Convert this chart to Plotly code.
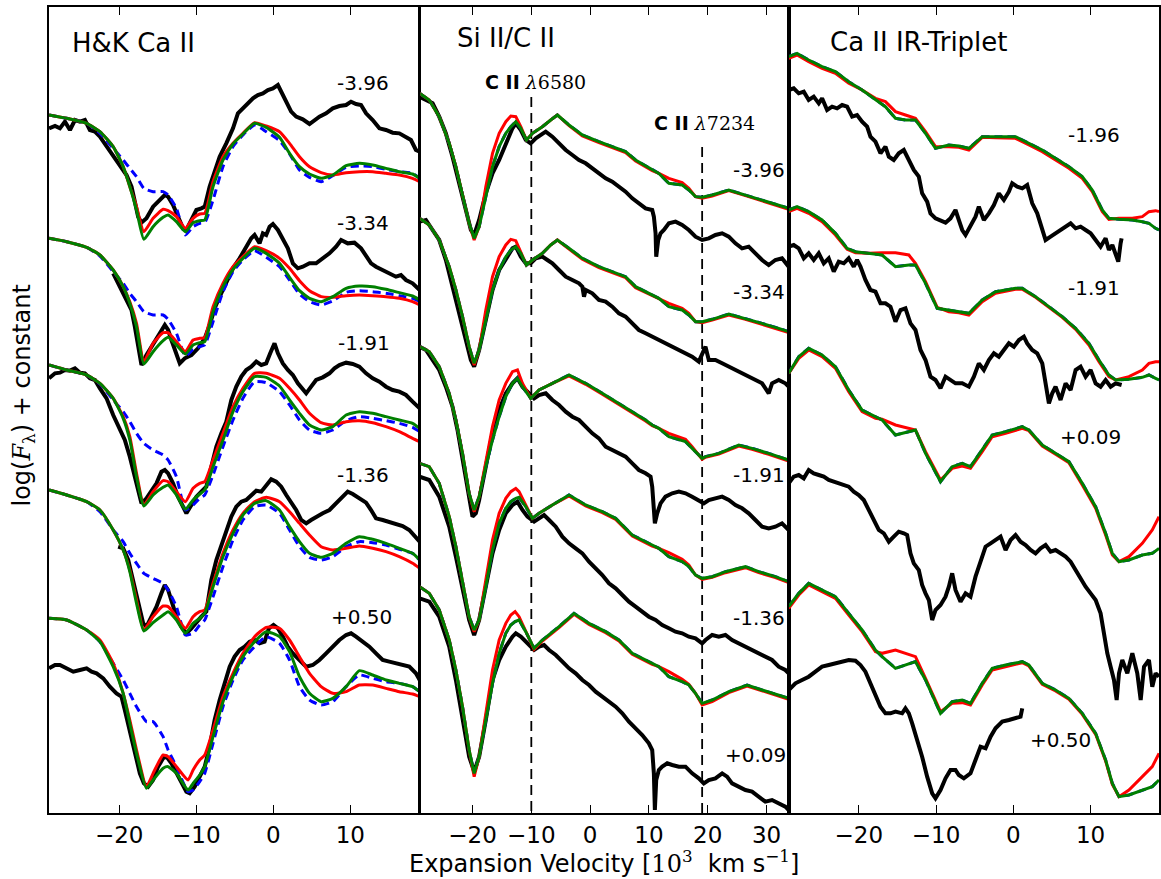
import plotly.graph_objects as go

# ======================= Panel 1 : H&K Ca II =======================
HK_GRID_V = [-29.1, -26.82, -24.23, -22.50, -20.78, -19.48, -18.62, -17.75, -16.80, -15.60, -14.30, -13.65,
             -12.57, -11.41, -10.41, -9.55, -8.90, -7.82, -6.53, -5.23, -3.94, -2.43, -0.92, 0.81, 2.11, 3.40,
             4.70, 6.21, 7.72, 9.45, 11.17, 12.90, 14.63, 16.36, 18.08, 19.0]
HK_GRID_V_P050 = [-29.1, -26.82, -24.23, -22.50, -20.78, -19.48, -18.62, -17.75, -16.46, -15.60, -14.30, -13.65,
                  -12.57, -11.06, -10.41, -9.55, -8.90, -7.82, -6.53, -5.23, -3.94, -2.43, -0.92, 0.81, 2.11, 3.40,
                  4.70, 6.21, 7.72, 9.45, 11.17, 12.90, 14.63, 16.36, 18.08, 19.0]

HK_RED_M396 = [20.95, 20.85, 20.70, 20.45, 20.00, 19.40, 18.80, 18.20, 17.45, 17.85, 18.12, 18.08, 17.90, 17.55, 17.85,
               17.98, 18.00, 18.95, 19.70, 20.10, 20.40, 20.72, 20.62, 20.45, 20.10, 19.70, 19.40, 19.22, 19.15, 19.22,
               19.25, 19.25, 19.20, 19.15, 19.05, 18.95]
HK_GREEN_M396 = [20.95, 20.85, 20.70, 20.45, 20.00, 19.40, 18.80, 18.10, 17.22, 17.60, 17.88, 17.95, 17.75, 17.45,
                 17.72, 17.78, 17.80, 18.80, 19.60, 20.08, 20.38, 20.70, 20.58, 20.28, 19.80, 19.40, 19.18, 19.05,
                 19.15, 19.43, 19.50, 19.45, 19.35, 19.25, 19.18, 19.05]
HK_BLUE_M396 = [20.95, 20.85, 20.70, 20.40, 19.95, 19.60, 19.35, 19.10, 18.75, 18.65, 18.65, 18.55, 18.15, 17.35,
                17.60, 17.70, 17.72, 18.40, 19.40, 20.00, 20.35, 20.65, 20.45, 20.18, 19.78, 19.30, 19.08, 18.95,
                19.13, 19.38, 19.42, 19.40, 19.32, 19.25, 19.20, 19.05]

HK_RED_M334 = [17.25, 17.15, 16.98, 16.75, 16.30, 15.80, 15.35, 14.70, 13.55, 14.10, 14.42, 14.42, 14.15, 13.85, 14.20,
               14.25, 14.27, 15.20, 15.90, 16.40, 16.70, 17.00, 16.88, 16.65, 16.35, 15.98, 15.68, 15.50, 15.48, 15.53,
               15.55, 15.53, 15.50, 15.45, 15.35, 15.25]
HK_GREEN_M334 = [17.25, 17.15, 16.98, 16.75, 16.30, 15.80, 15.30, 14.60, 13.48, 13.85, 14.18, 14.28, 14.05, 13.78,
                 14.05, 14.12, 14.15, 15.05, 15.80, 16.32, 16.65, 16.95, 16.80, 16.50, 16.08, 15.68, 15.45, 15.35,
                 15.50, 15.75, 15.82, 15.80, 15.72, 15.62, 15.52, 15.40]
HK_BLUE_M334 = [17.25, 17.15, 16.98, 16.72, 16.25, 15.90, 15.60, 15.35, 15.05, 14.95, 14.95, 14.82, 14.40, 13.72,
                13.92, 14.00, 14.05, 14.75, 15.65, 16.25, 16.60, 16.88, 16.68, 16.40, 16.00, 15.58, 15.35, 15.25,
                15.37, 15.63, 15.68, 15.65, 15.60, 15.53, 15.45, 15.35]

HK_RED_M191 = [13.45, 13.30, 13.15, 12.90, 12.45, 11.90, 11.30, 10.20, 9.25, 9.65, 9.98, 9.95, 9.65, 9.35, 9.75, 9.90,
               9.95, 10.60, 11.40, 12.20, 12.75, 13.20, 13.20, 13.05, 12.75, 12.40, 12.00, 11.72, 11.65, 11.75, 11.78,
               11.72, 11.60, 11.45, 11.25, 11.15]
HK_GREEN_M191 = [13.45, 13.30, 13.15, 12.90, 12.45, 11.85, 11.20, 10.10, 9.22, 9.55, 9.78, 9.85, 9.55, 9.12, 9.40,
                 9.58, 9.70, 10.40, 11.20, 12.05, 12.65, 13.10, 13.08, 12.82, 12.40, 12.00, 11.65, 11.50, 11.60, 11.95,
                 12.05, 12.00, 11.90, 11.80, 11.70, 11.55]
HK_BLUE_M191 = [13.45, 13.30, 13.15, 12.88, 12.40, 12.05, 11.75, 11.40, 11.10, 10.90, 10.75, 10.60, 10.10, 9.10, 9.25,
                9.45, 9.55, 10.15, 11.00, 11.80, 12.45, 12.95, 12.92, 12.65, 12.25, 11.80, 11.50, 11.40, 11.50, 11.78,
                11.90, 11.85, 11.78, 11.70, 11.58, 11.45]

HK_RED_M136 = [9.70, 9.55, 9.35, 9.10, 8.50, 7.90, 7.30, 6.40, 5.50, 5.90, 6.22, 6.20, 5.90, 5.55, 5.90, 6.05, 6.10,
               6.90, 7.80, 8.50, 9.00, 9.35, 9.48, 9.35, 9.05, 8.70, 8.35, 8.00, 7.90, 7.95, 8.02, 7.95, 7.85, 7.70,
               7.50, 7.35]
HK_GREEN_M136 = [9.70, 9.55, 9.35, 9.10, 8.50, 7.90, 7.25, 6.30, 5.47, 5.72, 5.95, 6.05, 5.80, 5.40, 5.70, 5.85, 6.00,
                 6.80, 7.70, 8.40, 8.95, 9.30, 9.38, 9.10, 8.60, 8.15, 7.80, 7.68, 7.80, 8.10, 8.30, 8.22, 8.10, 7.95,
                 7.80, 7.60]
HK_BLUE_M136 = [9.70, 9.55, 9.35, 9.05, 8.50, 8.15, 7.80, 7.50, 7.20, 7.05, 6.90, 6.70, 6.20, 5.35, 5.40, 5.65, 5.80,
                6.50, 7.40, 8.20, 8.80, 9.20, 9.25, 9.00, 8.50, 8.00, 7.68, 7.60, 7.70, 8.00, 8.15, 8.12, 8.05, 7.92,
                7.80, 7.60]

HK_RED_P050 = [5.85, 5.80, 5.50, 5.20, 4.50, 3.60, 2.80, 1.90, 0.80, 1.20, 1.75, 1.70, 1.40, 1.00, 1.30, 1.60, 1.75,
               2.50, 3.50, 4.20, 4.80, 5.30, 5.58, 5.55, 5.20, 4.70, 4.20, 3.80, 3.60, 3.65, 3.85, 3.85, 3.75, 3.65,
               3.58, 3.50]
HK_GREEN_P050 = [5.85, 5.80, 5.50, 5.15, 4.40, 3.60, 2.70, 1.80, 0.75, 1.00, 1.35, 1.40, 1.20, 0.70, 0.90, 1.15, 1.40,
                 2.30, 3.35, 4.10, 4.70, 5.15, 5.45, 5.30, 4.85, 4.10, 3.60, 3.35, 3.45, 3.80, 4.28, 4.15, 4.00, 3.90,
                 3.80, 3.65]
HK_BLUE_P050 = [5.85, 5.80, 5.50, 5.15, 4.50, 4.00, 3.60, 3.20, 2.75, 2.75, 2.30, 1.90, 1.40, 0.65, 0.70, 0.95, 1.20,
                2.10, 3.20, 4.00, 4.60, 5.00, 5.30, 5.10, 4.60, 3.80, 3.40, 3.25, 3.35, 3.80, 4.15, 4.05, 3.95, 3.90,
                3.80, 3.65]

HK_OBS_M396_V = [-29.1, -28.33, -27.69, -27.04, -26.39, -25.74, -25.09, -24.45, -23.80, -23.15, -22.50, -21.64, -20.78,
                 -19.91, -19.05, -18.40, -17.97, -17.54, -17.11, -16.46, -15.60, -14.73, -14.08, -13.65, -13.01,
                 -12.36, -11.71, -11.28, -10.63, -9.98, -9.34, -8.90, -8.26, -7.61, -6.96, -6.10, -5.23, -4.59, -3.94,
                 -3.29, -2.64, -2.00, -1.35, -0.70, -0.05, 0.60, 1.03, 1.68, 2.32, 2.97, 3.83, 4.70, 5.35, 5.99, 6.86,
                 7.72, 8.58, 9.45, 10.09, 10.74, 11.39, 12.04, 12.90, 13.77, 14.63, 15.49, 16.36, 17.22, 17.87, 18.51,
                 19.0]
HK_OBS_M396_F = [20.55, 20.62, 20.55, 20.75, 20.50, 20.80, 20.75, 20.80, 20.50, 20.45, 20.30, 20.00, 19.70, 19.40,
                 19.15, 18.80, 18.40, 17.90, 17.72, 17.85, 18.20, 18.40, 18.55, 18.50, 18.25, 17.90, 17.55, 17.50,
                 17.80, 18.10, 18.15, 18.20, 18.80, 19.30, 19.70, 20.10, 20.55, 21.00, 21.15, 21.30, 21.45, 21.55,
                 21.60, 21.70, 21.75, 21.85, 21.65, 21.30, 21.05, 20.90, 20.82, 20.68, 20.80, 20.90, 21.00, 21.15,
                 21.22, 21.25, 21.35, 21.28, 21.25, 21.00, 20.80, 20.55, 20.50, 20.42, 20.40, 20.30, 20.20, 19.90,
                 19.85]
HK_OBS_M334_V = [-20.78, -19.91, -19.05, -18.40, -17.97, -17.54, -17.11, -16.46, -15.60, -14.73, -14.08, -13.65,
                 -13.22, -12.57, -12.14, -11.49, -10.63, -9.77, -8.90, -8.26, -7.61, -6.96, -6.10, -5.23, -4.37,
                 -3.51, -2.86, -2.43, -1.78, -1.35, -0.92, -0.48, -0.05, 0.60, 1.24, 1.89, 2.54, 3.19, 3.83, 4.70,
                 5.56, 6.42, 7.29, 8.15, 8.80, 9.66, 10.53, 11.39, 12.04, 12.69, 13.33, 14.20, 15.06, 15.92, 16.57,
                 17.22, 18.08, 19.0]
HK_OBS_M334_F = [16.20, 15.80, 15.45, 15.10, 14.60, 14.00, 13.45, 13.75, 14.10, 14.40, 14.65, 14.50, 14.20, 13.80,
                 13.50, 13.65, 13.75, 13.95, 14.25, 14.65, 15.15, 15.50, 15.95, 16.35, 16.65, 17.00, 17.25, 17.35,
                 17.10, 17.40, 17.35, 17.60, 17.68, 17.50, 17.20, 16.95, 16.50, 16.35, 16.40, 16.50, 16.50, 16.65,
                 16.80, 17.00, 17.20, 17.10, 17.12, 16.95, 16.70, 16.50, 16.40, 16.30, 16.20, 16.10, 16.15, 16.00,
                 15.90, 15.70]
HK_OBS_M191_V = [-29.1, -28.33, -27.69, -27.04, -26.39, -25.74, -25.09, -24.45, -23.80, -23.15, -22.50, -21.64, -20.78,
                 -19.91, -19.27, -18.62, -17.97, -17.54, -17.11, -16.46, -15.81, -15.16, -14.52, -14.08, -13.65,
                 -13.01, -12.36, -11.71, -11.28, -10.63, -9.98, -9.34, -8.69, -8.04, -7.39, -6.74, -6.10, -5.45,
                 -4.80, -4.15, -3.51, -2.86, -2.21, -1.56, -0.92, -0.40, 0.16, 0.60, 1.24, 1.89, 2.54, 3.19, 3.83,
                 4.27, 4.91, 5.56, 6.42, 7.29, 7.94, 8.58, 9.45, 10.31, 11.17, 12.04, 12.90, 13.77, 14.63, 15.49,
                 16.36, 17.22, 18.08, 19.0]
HK_OBS_M191_F = [13.05, 13.20, 13.22, 13.30, 13.28, 13.35, 13.22, 13.20, 13.05, 13.00, 12.75, 12.45, 11.95, 11.50,
                 11.20, 10.70, 10.10, 9.70, 9.30, 9.45, 9.70, 9.90, 10.25, 10.30, 10.20, 9.90, 9.50, 9.20, 9.00, 9.25,
                 9.50, 9.65, 9.80, 10.40, 11.00, 11.40, 11.75, 12.40, 12.80, 13.10, 13.30, 13.40, 13.55, 13.45, 13.50,
                 13.80, 14.10, 13.80, 13.50, 13.30, 13.15, 12.90, 12.70, 12.60, 12.80, 13.00, 13.08, 13.20, 13.35,
                 13.45, 13.52, 13.48, 13.40, 13.20, 13.05, 12.95, 12.80, 12.70, 12.65, 12.55, 12.35, 12.15]
HK_OBS_M136_V = [-20.13, -19.48, -18.83, -18.19, -17.54, -16.89, -16.46, -15.81, -15.16, -14.52, -14.08, -13.65,
                 -13.22, -12.57, -11.93, -11.28, -10.63, -9.98, -9.34, -8.69, -8.04, -7.39, -6.74, -6.10, -5.45,
                 -4.80, -4.15, -3.51, -2.86, -2.21, -1.56, -0.92, -0.27, 0.38, 1.03, 1.68, 2.32, 2.97, 3.62, 4.27,
                 4.91, 5.56, 6.42, 7.29, 8.15, 9.02, 9.66, 10.31, 11.17, 12.04, 12.69, 13.33, 14.20, 15.06, 15.92,
                 16.79, 17.65, 18.51, 19.0]
HK_OBS_M136_F = [8.00, 7.95, 7.60, 7.00, 6.30, 5.70, 5.60, 5.90, 6.20, 6.60, 6.85, 6.70, 6.35, 5.90, 5.60, 5.40, 5.55,
                 5.75, 5.90, 6.05, 7.00, 7.60, 8.05, 8.50, 8.90, 9.20, 9.35, 9.40, 9.55, 9.68, 9.65, 9.85, 10.02, 9.95,
                 9.80, 9.55, 9.35, 9.10, 8.80, 8.70, 8.80, 8.90, 9.00, 9.10, 9.30, 9.50, 9.65, 9.58, 9.45, 9.32, 9.10,
                 8.85, 8.80, 8.75, 8.70, 8.62, 8.50, 8.25, 8.15]
HK_OBS_P050_V = [-29.1, -28.33, -27.69, -26.82, -25.96, -25.09, -24.23, -23.58, -22.94, -22.07, -21.21, -20.35, -19.70,
                 -19.27, -18.62, -17.97, -17.32, -16.80, -16.24, -15.60, -14.95, -14.30, -13.87, -13.22, -12.57,
                 -11.93, -11.28, -10.85, -10.20, -9.55, -8.90, -8.26, -7.61, -6.96, -6.31, -5.66, -5.02, -4.37,
                 -3.72, -3.07, -2.43, -1.78, -1.13, -0.57, 0.03, 0.60, 1.24, 1.89, 2.54, 3.40, 4.27, 5.13, 5.99, 6.86,
                 7.72, 8.58, 9.45, 10.09, 10.74, 11.61, 12.47, 13.33, 14.20, 15.06, 15.92, 16.79, 17.65, 18.51, 19.0]
HK_OBS_P050_F = [4.35, 4.45, 4.45, 4.35, 4.25, 4.30, 4.35, 4.25, 4.20, 4.05, 3.80, 3.60, 3.50, 3.10, 2.50, 1.80, 1.20,
                 0.90, 0.80, 1.00, 1.40, 1.65, 1.70, 1.50, 1.20, 0.90, 0.65, 0.60, 0.80, 1.10, 1.40, 2.00, 2.80, 3.40,
                 3.90, 4.40, 4.70, 4.90, 5.00, 5.15, 5.20, 5.10, 5.15, 5.55, 5.65, 5.55, 5.30, 5.00, 4.80, 4.60, 4.40,
                 4.45, 4.60, 4.80, 5.00, 5.20, 5.35, 5.40, 5.30, 5.15, 5.00, 4.80, 4.60, 4.55, 4.50, 4.45, 4.40, 4.20,
                 4.00]

HK_EPOCHS = ["-3.96", "-3.34", "-1.91", "-1.36", "+0.50"]
HK_LABEL_V = [11.7, 11.7, 11.8, 11.7, 11.5]
HK_LABEL_F = [21.91, 17.71, 14.11, 10.15, 5.89]

# ======================= Panel 2 : Si II / C II =======================
SI_GRID_A = [-29.0, -27.36, -25.66, -23.96, -22.83, -21.70, -20.57, -19.72, -18.87, -17.74, -16.60, -15.47, -14.34,
             -13.49, -12.64, -11.79, -10.83, -9.81, -8.12, -6.70, -5.57, -3.59, -1.32, 1.50, 3.77, 6.03, 7.73, 10.56,
             11.69, 13.39, 15.65, 16.79, 17.92, 19.05, 20.75, 23.58, 26.41, 29.24, 32.07, 33.77]
SI_GREEN_M396 = [21.60, 21.40, 20.90, 20.10, 19.40, 18.50, 17.70, 17.25, 17.60, 18.50, 19.40, 20.00, 20.40, 20.60,
                 20.75, 20.55, 20.20, 20.40, 20.60, 20.80, 20.95, 20.65, 20.35, 20.15, 20.00, 19.85, 19.60, 19.30,
                 19.20, 18.90, 18.85, 18.70, 18.50, 18.48, 18.55, 18.70, 18.55, 18.40, 18.25, 18.15]
SI_RED_M396 = [21.60, 21.40, 20.90, 20.10, 19.40, 18.50, 17.70, 17.20, 17.60, 18.80, 19.80, 20.40, 20.75, 20.92, 20.90,
               20.60, 20.20, 20.40, 20.60, 20.80, 20.95, 20.63, 20.32, 20.12, 19.97, 19.82, 19.57, 19.28, 19.20, 19.05,
               18.92, 18.75, 18.50, 18.45, 18.52, 18.68, 18.53, 18.38, 18.23, 18.12]
SI_GREEN_M334 = [17.85, 17.65, 17.20, 16.40, 15.70, 14.90, 14.00, 13.50, 13.90, 14.80, 15.70, 16.30, 16.70, 16.90,
                 17.00, 16.80, 16.45, 16.60, 16.80, 17.05, 17.20, 16.95, 16.65, 16.40, 16.25, 16.10, 15.80, 15.55,
                 15.45, 15.20, 15.10, 14.95, 14.75, 14.75, 14.82, 14.98, 14.85, 14.70, 14.55, 14.45]
SI_RED_M334 = [17.85, 17.65, 17.20, 16.40, 15.70, 14.90, 14.00, 13.45, 13.90, 15.10, 16.10, 16.70, 17.05, 17.22, 17.18,
               16.85, 16.45, 16.60, 16.80, 17.05, 17.20, 16.93, 16.62, 16.37, 16.22, 16.07, 15.77, 15.53, 15.45, 15.30,
               15.15, 15.00, 14.75, 14.72, 14.80, 14.95, 14.82, 14.67, 14.52, 14.42]

SI_GRID_B = [-29.0, -27.36, -25.66, -23.96, -22.83, -21.70, -20.57, -19.72, -18.87, -17.74, -16.60, -15.47, -14.34,
             -13.21, -12.36, -11.51, -10.10, -8.68, -6.42, -3.59, -1.89, -0.76, 2.07, 4.90, 7.73, 9.43, 10.56, 11.69,
             13.39, 16.22, 17.35, 19.05, 19.62, 21.88, 25.28, 27.54, 30.37, 33.77]
SI_GREEN_M191 = [14.00, 13.85, 13.40, 12.60, 11.80, 10.80, 9.60, 9.10, 9.50, 10.40, 11.20, 11.90, 12.50, 12.90, 13.05,
                 12.80, 12.45, 12.70, 12.90, 13.15, 13.00, 12.90, 12.60, 12.30, 12.00, 11.80, 11.65, 11.55, 11.30,
                 11.15, 10.95, 10.65, 10.70, 10.80, 11.05, 10.95, 10.80, 10.60]
SI_RED_M191 = [14.00, 13.85, 13.40, 12.60, 11.80, 10.80, 9.60, 9.05, 9.50, 10.60, 11.60, 12.40, 12.90, 13.25, 13.30,
               12.90, 12.45, 12.70, 12.90, 13.12, 12.97, 12.87, 12.57, 12.27, 11.97, 11.77, 11.63, 11.55, 11.40, 11.22,
               11.00, 10.62, 10.68, 10.78, 11.02, 10.92, 10.77, 10.57]

SI_GRID_C = [-29.0, -27.36, -25.66, -23.96, -22.83, -21.70, -20.57, -19.72, -18.87, -17.74, -16.60, -15.47, -14.34,
             -13.49, -12.64, -12.08, -10.95, -9.81, -8.68, -6.42, -3.59, -0.76, 2.07, 4.34, 7.17, 10.56, 11.69, 13.39,
             15.65, 16.79, 17.92, 19.05, 20.75, 23.01, 26.41, 28.67, 31.50, 33.77]
SI_GREEN_M136 = [10.50, 10.40, 9.90, 8.90, 8.00, 7.00, 5.90, 5.50, 5.80, 6.80, 7.90, 8.70, 9.15, 9.35, 9.45, 9.48,
                 9.20, 8.85, 9.00, 9.25, 9.55, 9.25, 9.05, 8.85, 8.35, 8.05, 7.95, 7.70, 7.55, 7.40, 7.15, 7.05, 7.10,
                 7.25, 7.40, 7.25, 7.10, 6.95]
SI_RED_M136 = [10.50, 10.40, 9.90, 8.90, 8.00, 7.00, 5.90, 5.45, 5.80, 7.00, 8.20, 9.00, 9.45, 9.65, 9.75, 9.65, 9.25,
               8.85, 9.00, 9.25, 9.52, 9.22, 9.02, 8.82, 8.32, 8.02, 7.95, 7.82, 7.62, 7.45, 7.15, 7.02, 7.08, 7.22,
               7.37, 7.22, 7.07, 6.92]

SI_GRID_D = [-29.0, -27.36, -25.66, -23.96, -22.83, -21.70, -20.57, -19.72, -18.87, -17.74, -16.60, -15.47, -14.34,
             -13.49, -12.76, -12.08, -10.95, -9.53, -8.12, -5.29, -2.74, -0.19, 2.64, 4.90, 7.17, 10.56, 11.69, 13.39,
             15.65, 16.79, 17.92, 19.05, 20.75, 23.58, 26.69, 29.24, 32.07, 33.77]
SI_GREEN_P009 = [6.80, 6.60, 6.10, 5.20, 4.30, 3.20, 1.90, 1.20, 1.70, 2.80, 3.90, 4.80, 5.40, 5.65, 5.75, 5.80, 5.45,
                 4.95, 5.20, 5.60, 6.00, 5.70, 5.45, 5.20, 4.80, 4.50, 4.40, 4.10, 3.95, 3.85, 3.60, 3.30, 3.40, 3.65,
                 3.85, 3.70, 3.55, 3.45]
SI_RED_P009 = [6.80, 6.60, 6.10, 5.20, 4.30, 3.20, 1.90, 1.10, 1.70, 3.00, 4.30, 5.20, 5.70, 5.95, 6.05, 5.90, 5.45,
               4.92, 5.17, 5.57, 5.97, 5.67, 5.42, 5.17, 4.77, 4.47, 4.40, 4.25, 4.02, 3.87, 3.60, 3.25, 3.35, 3.62,
               3.82, 3.67, 3.52, 3.42]

SI_OBS_M396_V = [-29.0, -27.92, -26.79, -25.66, -24.53, -23.40, -22.26, -21.13, -20.28, -19.72, -18.87, -17.74, -16.60,
                 -15.47, -14.34, -13.21, -12.64, -11.79, -10.95, -10.10, -9.25, -8.12, -7.55, -6.42, -5.29, -4.15,
                 -3.02, -1.89, -0.76, 0.37, 1.50, 2.64, 3.77, 4.90, 6.03, 7.17, 8.30, 9.43, 10.56, 10.84, 11.13,
                 11.24, 11.58, 11.98, 12.54, 13.39, 14.52, 15.65, 16.79, 17.92, 19.05, 20.18, 21.31, 22.45, 23.58,
                 24.71, 25.84, 26.97, 28.11, 29.24, 30.37, 31.50, 32.63, 33.77]
SI_OBS_M396_F = [21.50, 21.40, 21.30, 20.90, 20.40, 19.70, 18.90, 18.00, 17.50, 17.35, 17.80, 18.60, 19.20, 19.60,
                 20.10, 20.55, 20.70, 20.50, 20.20, 20.10, 20.25, 20.40, 20.45, 20.30, 20.10, 19.90, 19.75, 19.60,
                 19.50, 19.35, 19.20, 19.05, 18.95, 18.80, 18.65, 18.45, 18.30, 18.15, 18.10, 17.90, 17.40, 16.70,
                 17.20, 17.40, 17.50, 17.70, 17.75, 17.65, 17.50, 17.30, 17.20, 17.25, 17.35, 17.40, 17.30, 17.10,
                 16.95, 17.00, 16.80, 16.60, 16.45, 16.60, 16.65, 16.40]
SI_OBS_M334_V = [-29.0, -27.92, -26.79, -25.66, -24.53, -23.40, -22.26, -21.13, -20.28, -19.72, -18.87, -17.74, -16.60,
                 -15.47, -14.34, -13.21, -12.64, -11.79, -10.95, -10.10, -9.25, -8.12, -7.27, -6.42, -5.29, -4.15,
                 -3.02, -1.89, -1.32, -1.04, -0.76, 0.37, 1.50, 2.64, 3.77, 4.90, 6.03, 7.17, 8.30, 9.43, 10.56, 11.69,
                 12.82, 13.96, 15.09, 16.22, 17.35, 18.48, 19.33, 19.62, 20.18, 21.31, 22.45, 23.58, 24.71, 25.84,
                 26.97, 28.11, 29.24, 30.37, 30.94, 32.07, 33.20, 33.77]
SI_OBS_M334_F = [17.75, 17.80, 17.50, 17.20, 16.60, 15.80, 15.00, 14.20, 13.60, 13.40, 13.90, 14.80, 15.70, 16.30,
                 16.60, 16.95, 17.00, 16.70, 16.50, 16.50, 16.65, 16.70, 16.60, 16.50, 16.30, 16.10, 16.00, 15.90,
                 15.80, 15.50, 15.70, 15.60, 15.40, 15.35, 15.20, 15.00, 14.90, 14.70, 14.50, 14.40, 14.30, 14.20,
                 14.10, 14.00, 13.90, 13.80, 13.70, 13.55, 13.90, 14.00, 13.60, 13.60, 13.50, 13.40, 13.30, 13.20,
                 13.10, 13.00, 12.90, 12.60, 12.90, 13.00, 12.90, 12.80]
SI_OBS_M191_V = [-29.0, -27.92, -26.79, -25.66, -24.53, -23.40, -22.55, -21.70, -20.57, -20.00, -19.43, -18.87, -17.74,
                 -16.60, -15.47, -14.34, -13.21, -12.36, -11.51, -10.38, -9.53, -8.68, -7.55, -6.42, -5.29, -4.15,
                 -3.02, -1.89, -0.76, 0.37, 1.50, 2.64, 3.77, 4.90, 6.03, 7.17, 8.30, 9.43, 10.28, 10.56, 10.84,
                 11.01, 11.41, 11.98, 12.82, 13.96, 15.09, 16.22, 17.35, 18.48, 19.33, 20.18, 21.31, 22.45, 23.58,
                 24.71, 25.84, 26.97, 28.11, 29.24, 30.37, 31.50, 32.63, 33.77]
SI_OBS_M191_F = [14.00, 13.90, 13.60, 13.30, 12.80, 12.20, 11.50, 10.60, 9.40, 8.90, 9.00, 9.40, 10.40, 11.40, 12.10,
                 12.60, 12.90, 13.05, 12.80, 12.60, 12.45, 12.55, 12.60, 12.40, 12.25, 12.05, 11.90, 11.80, 11.60,
                 11.40, 11.25, 11.00, 10.90, 10.80, 10.70, 10.50, 10.30, 10.20, 10.10, 9.80, 9.20, 8.70, 9.00, 9.30,
                 9.50, 9.60, 9.65, 9.60, 9.50, 9.40, 9.30, 9.40, 9.45, 9.50, 9.40, 9.25, 9.15, 9.00, 8.80, 8.60, 8.55,
                 8.60, 8.70, 8.50]
SI_OBS_M136_V = [-29.0, -27.36, -25.66, -23.96, -22.83, -21.70, -20.57, -19.72, -18.87, -17.74, -16.60, -15.47,
                 -14.34, -13.21, -12.36, -11.51, -10.66, -9.53, -8.68, -7.83, -6.98, -5.85, -4.72, -3.59, -2.46,
                 -1.32, -0.19, 0.94, 2.07, 3.20, 4.34, 5.47, 6.60, 7.73, 8.86, 9.99, 11.13, 12.26, 13.39, 14.52, 15.65,
                 16.79, 17.92, 19.05, 19.62, 20.75, 21.88, 23.01, 24.14, 25.28, 26.41, 27.54, 28.67, 29.80, 30.94,
                 32.07, 33.20, 33.77]
SI_OBS_M136_F = [10.10, 10.00, 9.50, 8.60, 7.70, 6.80, 5.80, 5.35, 5.80, 6.80, 7.80, 8.50, 9.00, 9.25, 9.35, 9.10,
                 8.90, 8.75, 8.85, 8.95, 8.80, 8.60, 8.30, 8.10, 7.95, 7.80, 7.55, 7.35, 7.15, 6.90, 6.75, 6.55, 6.35,
                 6.20, 6.05, 5.90, 5.80, 5.65, 5.55, 5.45, 5.40, 5.30, 5.25, 5.10, 5.20, 5.35, 5.30, 5.35, 5.20, 5.10,
                 5.00, 4.90, 4.80, 4.70, 4.60, 4.40, 4.30, 4.20]
SI_OBS_P009_V = [-29.0, -27.36, -25.66, -23.96, -22.83, -21.70, -20.57, -19.72, -18.87, -17.74, -16.60, -15.47,
                 -14.34, -13.21, -12.64, -11.79, -10.95, -9.53, -8.68, -7.83, -6.98, -5.85, -4.72, -3.59, -2.46,
                 -1.32, -0.19, 0.94, 2.07, 3.20, 4.34, 5.47, 6.60, 7.73, 8.86, 9.99, 10.56, 10.84, 11.01, 11.24,
                 11.69, 12.26, 13.11, 13.96, 15.09, 16.22, 17.35, 18.48, 19.33, 20.18, 21.31, 22.45, 23.29, 24.14,
                 25.28, 26.41, 27.54, 28.67, 29.80, 30.94, 32.07, 33.20, 33.77]
SI_OBS_P009_F = [6.45, 6.35, 5.90, 5.00, 4.00, 2.90, 1.70, 1.25, 1.70, 2.80, 4.00, 4.60, 5.00, 5.30, 5.40, 5.30, 5.15,
                 4.90, 5.00, 5.05, 4.90, 4.75, 4.55, 4.35, 4.20, 4.00, 3.85, 3.65, 3.50, 3.35, 3.20, 3.00, 2.75, 2.55,
                 2.35, 2.10, 1.90, 1.20, 0.10, 1.00, 1.30, 1.40, 1.50, 1.45, 1.40, 1.40, 1.20, 1.05, 0.90, 1.00, 1.05,
                 1.20, 1.10, 0.90, 0.80, 0.70, 0.65, 0.50, 0.35, 0.40, 0.30, 0.20, 0.10]

SI_EPOCHS = ["-3.96", "-3.34", "-1.91", "-1.36", "+0.09"]
SI_LABEL_V = [28.7, 28.7, 28.7, 28.7, 28.2]
SI_LABEL_F = [19.30, 15.64, 10.15, 5.86, 1.75]

CII_LINES_V = [-10.0, 19.05]
CII_LINES_TOP = [21.49, 19.99]
CII_NAMES = ["6580", "7234"]
CII_LABEL_V = [-9.35, 19.5]
CII_LABEL_F = [21.94, 20.71]

# ======================= Panel 3 : Ca II IR triplet =======================
IR_GRID_A = [-29.07, -27.99, -26.48, -24.75, -23.02, -21.30, -19.57, -17.84, -16.55, -15.25, -13.96, -12.66, -11.36,
             -10.07, -8.34, -7.05, -5.75, -4.02, -2.30, 0.29, 2.02, 3.75, 5.47, 7.20, 8.93, 10.22, 11.52, 12.38,
             13.68, 15.41, 16.70, 17.56, 18.42, 18.86]
IR_GREEN_M196 = [22.70, 22.80, 22.60, 22.40, 22.25, 21.95, 21.70, 21.40, 21.20, 20.85, 20.80, 20.80, 20.40, 19.95,
                 20.05, 20.02, 19.95, 20.30, 20.30, 20.30, 20.10, 19.90, 19.65, 19.40, 19.10, 18.70, 18.10, 17.85,
                 17.82, 17.80, 17.75, 17.70, 17.55, 17.50]
IR_RED_M196 = [22.65, 22.75, 22.55, 22.35, 22.20, 21.90, 21.70, 21.45, 21.35, 21.05, 20.95, 20.85, 20.45, 20.00, 20.00,
               19.98, 19.90, 20.28, 20.27, 20.25, 20.05, 19.85, 19.60, 19.35, 19.05, 18.65, 18.05, 17.82, 17.85, 17.85,
               17.90, 18.05, 18.08, 18.05]

IR_GRID_B = [-29.07, -27.99, -26.48, -24.75, -23.02, -21.51, -20.43, -18.70, -16.98, -15.25, -13.52, -12.66, -11.36,
             -9.85, -8.34, -7.05, -5.75, -4.02, -2.30, 0.29, 1.16, 2.88, 4.61, 6.34, 8.07, 9.79, 11.09, 12.38, 13.25,
             14.97, 16.70, 17.56, 18.42, 18.86]
IR_GREEN_M191 = [18.10, 18.20, 18.05, 17.80, 17.40, 16.95, 16.85, 16.80, 16.75, 16.40, 16.45, 16.45, 15.90, 15.15,
                 15.10, 15.05, 15.00, 15.40, 15.65, 15.75, 15.75, 15.50, 15.20, 14.90, 14.55, 14.10, 13.60, 13.15,
                 13.00, 13.02, 13.08, 13.15, 13.05, 13.00]
IR_RED_M191 = [18.05, 18.15, 18.00, 17.75, 17.35, 16.92, 16.82, 16.80, 16.82, 16.82, 16.75, 16.50, 15.95, 15.18, 15.05,
               15.02, 14.95, 15.35, 15.60, 15.72, 15.72, 15.48, 15.18, 14.88, 14.52, 14.05, 13.55, 13.10, 13.00, 13.10,
               13.30, 13.50, 13.55, 13.55]

IR_GRID_C = [-29.07, -27.77, -26.48, -24.75, -23.02, -21.30, -19.57, -17.84, -16.98, -15.25, -12.66, -11.36, -9.42,
             -7.91, -6.61, -5.54, -4.02, -2.73, -1.00, 1.16, 2.02, 3.75, 5.47, 7.20, 8.93, 10.66, 11.95, 12.82, 13.68,
             14.97, 16.70, 17.99, 18.86]
IR_GREEN_P009 = [13.20, 13.70, 13.95, 13.75, 13.40, 12.70, 12.10, 11.90, 11.80, 11.35, 11.50, 10.80, 9.95, 10.40, 10.50,
                 10.40, 10.90, 11.35, 11.45, 11.60, 11.50, 11.05, 10.80, 10.55, 9.90, 9.20, 8.40, 7.80, 7.55, 7.60,
                 7.75, 7.80, 7.95]
IR_RED_P009 = [13.20, 13.65, 13.90, 13.70, 13.35, 12.65, 12.05, 11.85, 11.82, 11.65, 11.50, 10.85, 10.00, 10.35, 10.42,
               10.35, 10.85, 11.30, 11.40, 11.55, 11.48, 11.02, 10.77, 10.52, 9.85, 9.15, 8.35, 7.75, 7.55, 7.70, 8.10,
               8.50, 8.90]
IR_GREEN_P050 = [6.20, 6.60, 6.90, 6.70, 6.50, 6.00, 5.50, 4.90, 4.70, 4.35, 4.55, 4.00, 3.00, 3.35, 3.40, 3.30, 3.90,
                 4.35, 4.45, 4.55, 4.45, 3.90, 3.70, 3.45, 3.00, 2.40, 1.60, 0.90, 0.50, 0.55, 0.70, 0.80, 1.00]
IR_RED_P050 = [6.15, 6.55, 6.85, 6.65, 6.45, 5.95, 5.45, 4.85, 4.80, 4.90, 4.70, 4.05, 3.05, 3.30, 3.32, 3.25, 3.85,
               4.30, 4.40, 4.52, 4.42, 3.87, 3.67, 3.42, 2.97, 2.37, 1.57, 0.87, 0.50, 0.70, 1.10, 1.40, 1.80]

IR_OBS_M196_V = [-29.07, -28.42, -27.77, -27.12, -26.48, -25.83, -25.18, -24.75, -24.10, -23.45, -22.81, -22.16,
                 -21.51, -20.86, -20.22, -19.57, -18.92, -18.49, -17.84, -17.19, -16.55, -16.11, -15.47, -14.82,
                 -14.17, -13.52, -12.88, -12.23, -11.80, -11.15, -10.72, -10.07, -9.42, -8.77, -8.13, -7.48, -7.05,
                 -6.61, -6.18, -5.54, -4.89, -4.46, -3.81, -3.16, -2.51, -1.87, -1.22, -0.57, -0.14, 0.51, 1.16, 1.80,
                 2.45, 3.10, 3.75, 4.18, 4.83, 5.47, 6.12, 6.77, 7.42, 8.07, 8.71, 9.36, 10.01, 10.66, 11.30, 11.95,
                 12.38, 12.82, 13.25, 13.59, 13.89, 14.02]
IR_OBS_M196_F = [21.70, 21.75, 21.60, 21.65, 21.40, 21.50, 21.30, 21.45, 21.10, 21.20, 21.15, 21.25, 21.20, 20.90,
                 20.95, 20.75, 20.60, 20.30, 20.15, 19.80, 20.00, 19.70, 19.60, 19.80, 19.90, 19.60, 19.30, 19.10,
                 18.60, 18.35, 18.00, 17.85, 17.80, 17.72, 17.85, 18.10, 17.80, 17.50, 17.35, 17.60, 17.90, 18.20,
                 17.80, 18.00, 18.25, 18.60, 18.40, 18.65, 18.90, 18.80, 18.75, 18.85, 18.30, 18.00, 17.50, 17.20,
                 17.30, 17.40, 17.50, 17.60, 17.70, 17.55, 17.60, 17.50, 17.40, 17.20, 17.00, 17.25, 16.90, 17.05,
                 16.80, 16.55, 17.10, 17.25]
IR_OBS_M191_V = [-29.07, -28.42, -27.77, -27.12, -26.48, -25.83, -25.18, -24.53, -23.89, -23.24, -22.59, -21.94,
                 -21.30, -20.65, -20.22, -19.78, -19.14, -18.49, -17.84, -17.19, -16.55, -15.90, -15.25, -14.60,
                 -13.96, -13.31, -12.66, -12.01, -11.36, -10.72, -10.07, -9.42, -8.77, -8.13, -7.48, -6.61, -5.75,
                 -5.10, -4.46, -3.81, -3.16, -2.51, -1.87, -1.22, -0.57, 0.08, 0.73, 1.37, 1.80, 2.45, 3.10, 3.75,
                 4.18, 4.61, 5.04, 5.47, 6.12, 6.77, 7.42, 8.07, 8.71, 9.36, 10.01, 10.66, 11.30, 11.95, 12.60, 13.25,
                 14.02]
IR_OBS_M191_F = [17.00, 17.05, 16.95, 16.65, 16.80, 16.60, 16.80, 16.50, 16.65, 16.25, 16.55, 16.50, 16.65, 16.40,
                 16.60, 16.40, 16.00, 15.70, 15.65, 15.30, 15.30, 15.20, 14.75, 15.10, 15.15, 14.70, 14.50, 13.90,
                 13.60, 13.10, 13.00, 12.75, 13.10, 13.00, 12.90, 12.90, 12.80, 13.10, 13.50, 13.30, 13.60, 13.80,
                 13.70, 13.90, 14.10, 14.00, 14.20, 14.30, 14.10, 13.90, 13.80, 13.50, 12.90, 12.30, 12.60, 12.80,
                 12.40, 12.90, 12.70, 13.30, 13.40, 13.10, 13.30, 12.90, 12.80, 13.00, 12.80, 12.90, 12.85]
IR_OBS_P009_V = [-29.07, -28.42, -27.77, -27.12, -26.48, -25.83, -25.18, -24.53, -23.89, -23.24, -22.59, -21.94,
                 -21.30, -20.65, -20.00, -19.35, -18.70, -18.06, -17.41, -16.76, -16.11, -15.47, -14.82, -14.17,
                 -13.74, -13.31, -12.88, -12.23, -11.80, -11.36, -10.93, -10.50, -10.07, -9.42, -8.77, -8.34, -7.91,
                 -7.48, -6.83, -6.18, -5.54, -4.89, -4.24, -3.59, -2.94, -2.30, -1.65, -1.00, -0.35, 0.29, 0.94, 1.59,
                 2.24, 2.88, 3.53, 4.18, 4.83, 5.47, 6.12, 6.77, 7.42, 8.07, 8.71, 9.36, 10.01, 10.66, 11.30, 11.74,
                 12.17, 12.60, 13.03, 13.38, 13.68, 14.11, 14.76, 15.41, 16.05, 16.49, 16.92, 17.56, 17.99, 18.42,
                 18.86]
IR_OBS_P009_F = [9.90, 10.10, 10.15, 10.05, 10.30, 10.20, 10.15, 10.10, 10.00, 9.95, 9.90, 9.85, 9.80, 9.65, 9.55,
                 9.40, 9.10, 8.80, 8.50, 8.40, 8.15, 8.30, 8.45, 8.40, 8.35, 7.80, 7.50, 7.30, 6.85, 6.60, 6.40, 5.80,
                 6.10, 6.25, 6.50, 6.80, 7.20, 6.70, 6.35, 6.60, 6.50, 7.10, 7.60, 8.00, 8.10, 8.20, 8.30, 7.90, 8.20,
                 8.35, 8.15, 8.05, 7.90, 7.80, 7.95, 8.05, 7.85, 7.90, 7.80, 7.70, 7.55, 7.30, 7.00, 6.80, 6.60, 6.40,
                 6.00, 5.30, 4.80, 4.40, 4.00, 3.40, 4.20, 4.60, 4.20, 4.80, 4.20, 3.40, 4.40, 4.60, 3.80, 4.20, 4.10]
IR_OBS_P050_V = [-29.07, -28.20, -27.34, -26.48, -25.61, -24.75, -23.89, -23.02, -22.16, -21.30, -20.43, -19.78,
                 -19.14, -18.49, -17.84, -17.19, -16.55, -15.90, -15.25, -14.39, -13.96, -13.52, -13.09, -12.44,
                 -11.80, -11.15, -10.50, -10.07, -9.42, -8.77, -8.13, -7.48, -7.05, -6.40, -5.54, -4.89, -4.24, -3.59,
                 -2.94, -2.30, -1.43, -0.57, 0.29, 0.94, 1.16]
IR_OBS_P050_F = [3.70, 3.90, 4.00, 4.10, 4.25, 4.40, 4.45, 4.50, 4.55, 4.60, 4.58, 4.45, 4.25, 3.90, 3.60, 3.20, 3.00,
                 3.00, 3.05, 3.00, 3.15, 3.00, 2.70, 2.20, 1.70, 1.10, 0.60, 0.45, 0.70, 1.05, 1.30, 1.30, 1.15, 1.05,
                 1.20, 1.60, 2.00, 1.95, 2.30, 2.55, 2.75, 2.80, 2.85, 2.90, 3.15]

IR_EPOCHS = ["-1.96", "-1.91", "+0.09", "+0.50"]
IR_LABEL_V = [10.5, 10.5, 10.0, 6.1]
IR_LABEL_F = [20.35, 15.76, 11.29, 2.20]

# ---------------- axes & styling ----------------
X_RANGES = [[-29.11, 18.95], [-28.88, 33.77], [-29.07, 18.86]]
X_TICKS = [[-20, -10, 0, 10], [-20, -10, 0, 10, 20, 30], [-20, -10, 0, 10]]
Y_RANGE = [0.01, 24.19]
DOMAINS = [[0.0, 0.3336], [0.3345, 0.6664], [0.6664, 1.0]]
PANEL_TITLES = ["H&K Ca II", "Si II/C II", "Ca II IR-Triplet"]
TITLE_V = [-26.4, -22.9, -24.0]
TITLE_F = [23.11, 23.26, 23.14]

FONT = "DejaVu Sans"
SERIF = "DejaVu Serif"
BLACK, RED, GREEN, BLUE = "#000000", "#ff0000", "#008000", "#0000ff"

# ---------------- build ----------------
def check(a, b, name):
    if len(a) != len(b):
        raise ValueError(f"length mismatch in {name}: {len(a)} vs {len(b)}")

fig = go.Figure()

def add_line(xs, ys, color, width, panel, dash=None, name="", smooth=False):
    check(xs, ys, name)
    ax = "" if panel == 1 else str(panel)
    line = dict(color=color, width=width, dash=dash)
    if smooth:
        line.update(shape="spline", smoothing=0.5)
    fig.add_trace(go.Scatter(x=xs, y=ys, mode="lines", xaxis="x" + ax, yaxis="y" + ax,
                             line=line, hoverinfo="skip", showlegend=False))

# Panel 1
hk_obs = [(HK_OBS_M396_V, HK_OBS_M396_F), (HK_OBS_M334_V, HK_OBS_M334_F), (HK_OBS_M191_V, HK_OBS_M191_F),
          (HK_OBS_M136_V, HK_OBS_M136_F), (HK_OBS_P050_V, HK_OBS_P050_F)]
hk_mod = [(HK_GRID_V, HK_BLUE_M396, HK_RED_M396, HK_GREEN_M396),
          (HK_GRID_V, HK_BLUE_M334, HK_RED_M334, HK_GREEN_M334),
          (HK_GRID_V, HK_BLUE_M191, HK_RED_M191, HK_GREEN_M191),
          (HK_GRID_V, HK_BLUE_M136, HK_RED_M136, HK_GREEN_M136),
          (HK_GRID_V_P050, HK_BLUE_P050, HK_RED_P050, HK_GREEN_P050)]
for i, ((ov, of), (g, b, r, gr)) in enumerate(zip(hk_obs, hk_mod)):
    add_line(ov, of, BLACK, 4, 1, name=f"hk obs {i}")
    add_line(g, b, BLUE, 3, 1, dash="8px,5px", name=f"hk blue {i}", smooth=True)
    add_line(g, r, RED, 3, 1, name=f"hk red {i}", smooth=True)
    add_line(g, gr, GREEN, 3, 1, name=f"hk green {i}", smooth=True)

# Panel 2
for i, (v, top) in enumerate(zip(CII_LINES_V, CII_LINES_TOP)):
    add_line([v, v], [top, Y_RANGE[0]], BLACK, 1.8, 2, dash="10px,6px", name="cii")
si_obs = [(SI_OBS_M396_V, SI_OBS_M396_F), (SI_OBS_M334_V, SI_OBS_M334_F), (SI_OBS_M191_V, SI_OBS_M191_F),
          (SI_OBS_M136_V, SI_OBS_M136_F), (SI_OBS_P009_V, SI_OBS_P009_F)]
si_mod = [(SI_GRID_A, SI_RED_M396, SI_GREEN_M396), (SI_GRID_A, SI_RED_M334, SI_GREEN_M334),
          (SI_GRID_B, SI_RED_M191, SI_GREEN_M191), (SI_GRID_C, SI_RED_M136, SI_GREEN_M136),
          (SI_GRID_D, SI_RED_P009, SI_GREEN_P009)]
for i, ((ov, of), (g, r, gr)) in enumerate(zip(si_obs, si_mod)):
    add_line(ov, of, BLACK, 4, 2, name=f"si obs {i}")
    add_line(g, gr, BLUE, 3, 2, dash="8px,5px", name=f"si blue {i}")
    add_line(g, r, RED, 3, 2, name=f"si red {i}")
    add_line(g, gr, GREEN, 3, 2, name=f"si green {i}")

# Panel 3
ir_obs = [(IR_OBS_M196_V, IR_OBS_M196_F), (IR_OBS_M191_V, IR_OBS_M191_F), (IR_OBS_P009_V, IR_OBS_P009_F),
          (IR_OBS_P050_V, IR_OBS_P050_F)]
ir_mod = [(IR_GRID_A, IR_RED_M196, IR_GREEN_M196), (IR_GRID_B, IR_RED_M191, IR_GREEN_M191),
          (IR_GRID_C, IR_RED_P009, IR_GREEN_P009), (IR_GRID_C, IR_RED_P050, IR_GREEN_P050)]
for i, ((ov, of), (g, r, gr)) in enumerate(zip(ir_obs, ir_mod)):
    add_line(ov, of, BLACK, 4, 3, name=f"ir obs {i}")
    add_line(g, gr, BLUE, 3, 3, dash="8px,5px", name=f"ir blue {i}")
    add_line(g, r, RED, 3, 3, name=f"ir red {i}")
    add_line(g, gr, GREEN, 3, 3, name=f"ir green {i}")

annotations = []
def ann(panel, x, y, text, size, xanchor="center"):
    ax = "" if panel == 1 else str(panel)
    annotations.append(dict(x=x, y=y, xref="x" + ax, yref="y" + ax, text=text, showarrow=False,
                            xanchor=xanchor, yanchor="middle",
                            font=dict(family=FONT, size=size, color="black")))

for lab, x, y in zip(HK_EPOCHS, HK_LABEL_V, HK_LABEL_F):
    ann(1, x, y, lab, 20)
for lab, x, y in zip(SI_EPOCHS, SI_LABEL_V, SI_LABEL_F):
    ann(2, x, y, lab, 20)
for lab, x, y in zip(IR_EPOCHS, IR_LABEL_V, IR_LABEL_F):
    ann(3, x, y, lab, 20)
for p, (t, x, y) in enumerate(zip(PANEL_TITLES, TITLE_V, TITLE_F), start=1):
    ann(p, x, y, t, 26, xanchor="left")
for name, x, y in zip(CII_NAMES, CII_LABEL_V, CII_LABEL_F):
    ann(2, x, y, f"<b>C II</b> <span style='font-family:{SERIF}'><i>λ</i>{name}</span>", 19)

annotations.append(dict(x=0.5, y=-0.061, xref="paper", yref="paper", showarrow=False,
                        xanchor="center", yanchor="middle",
                        text=f"Expansion Velocity [<span style='font-family:{SERIF}'>10<sup>3</sup></span>  km s"
                             f"<sup><span style='font-family:{SERIF}'>−1</span></sup>]",
                        font=dict(family=FONT, size=24, color="black")))
annotations.append(dict(x=-0.0234, y=0.518, xref="paper", yref="paper", showarrow=False, textangle=-90,
                        xanchor="center", yanchor="middle",
                        text=f"log(<span style='font-family:{SERIF}'><i>F</i><sub>λ</sub></span>) + constant",
                        font=dict(family=FONT, size=24, color="black")))

layout = dict(width=1161, height=879, margin=dict(l=49, r=0, t=7, b=66),
              paper_bgcolor="white", plot_bgcolor="white", showlegend=False,
              font=dict(family=FONT, size=23, color="black"), annotations=annotations)
for p in (1, 2, 3):
    ax = "" if p == 1 else str(p)
    layout["xaxis" + ax] = dict(domain=DOMAINS[p - 1], range=X_RANGES[p - 1], tickvals=X_TICKS[p - 1],
                                ticks="inside", ticklen=8, tickwidth=1.2, tickcolor="black",
                                showline=True, linecolor="black", linewidth=2, mirror="ticks",
                                showgrid=False, zeroline=False, anchor="y" + ax,
                                tickfont=dict(family=FONT, size=23, color="black"))
    layout["yaxis" + ax] = dict(domain=[0, 1], range=Y_RANGE, showticklabels=False, ticks="",
                                showline=True, linecolor="black", linewidth=2, mirror=True,
                                showgrid=False, zeroline=False, anchor="x" + ax)
fig.update_layout(**layout)
fig.write_html("out.html", config={"displayModeBar": False},
               post_script="document.body.style.margin='0';document.body.style.overflow='hidden';")
